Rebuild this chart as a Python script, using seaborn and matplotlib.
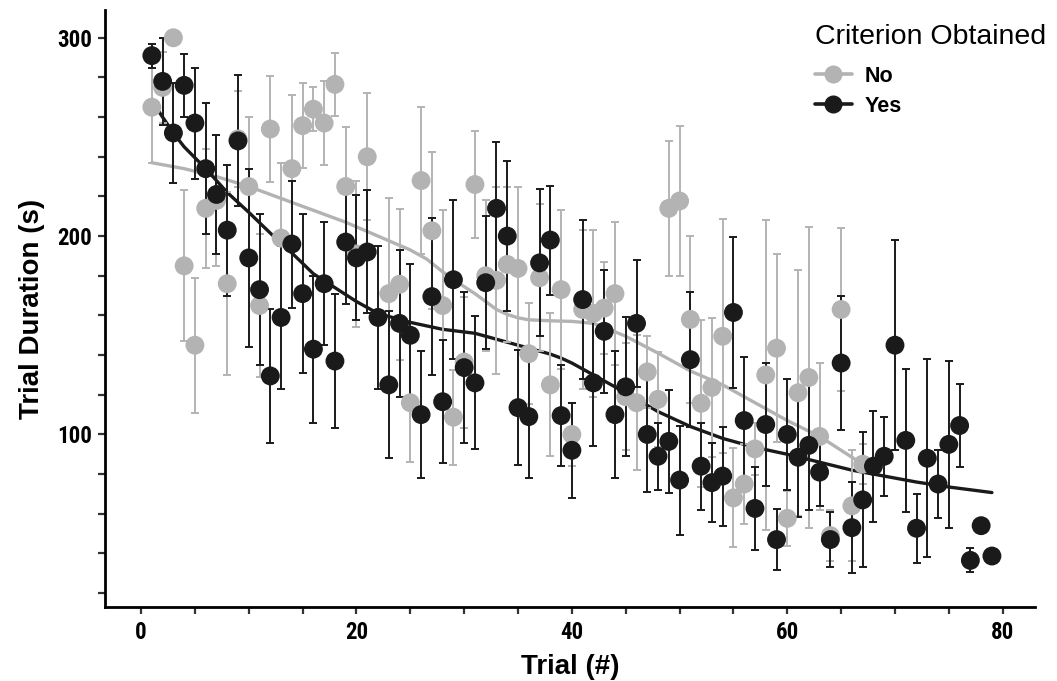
import numpy as np
import pandas as pd
import matplotlib
matplotlib.use("Agg")
import matplotlib.pyplot as plt
import seaborn as sns
from matplotlib.lines import Line2D
from matplotlib import font_manager as fm

# ---------------- data ----------------
yes_trials = list(range(1, 80))
yes_mean = [291, 278, 252, 276, 257, 234, 221, 203, 248, 189,
            173, 129.5, 159, 196, 171, 143, 176, 137, 197, 189,
            192, 159, 125, 156, 150, 110, 169.5, 116.5, 178, 133.7,
            126, 176.5, 214, 200, 113.5, 109, 186.5, 198, 109.5, 92,
            168, 126, 152, 110, 124, 156, 100, 89, 96.5, 77,
            137.7, 84, 75.7, 79, 161.5, 107, 62.7, 105, 47, 100,
            88.5, 94.5, 81, 47, 136, 53, 67, 84, 89, 145,
            97, 52.7, 88, 75, 95, 104.5, 36.5, 54, 38.7]
yes_se = [6, 22, 25, 16, 28, 33, 30, 33, 33, 45,
          38, 34, 36, 32, 40, 37, 31, 34, 31, 31.5,
          31, 36, 37, 37, 36, 32, 39.5, 31, 40, 38,
          33.5, 33.5, 33.5, 38, 29, 31, 37, 27.5, 25.5, 24,
          40, 32, 31, 32, 35, 32, 29, 17, 26, 27.5,
          34, 22, 20, 25, 38, 32, 21, 31, 15.5, 28,
          30, 32.5, 17, 14, 34, 23, 34, 28, 20, 53,
          36, 17.5, 50, 17, 42, 21, 6, 0, 0]

no_trials = list(range(1, 68))
no_mean = [265, 275, 300, 185, 145, 214, 218, 176, 249, 225,
           165, 254, 199, 234, 255.7, 264, 257, 276.5, 225, 191,
           240, np.nan, 171, 175.7, 116, 228, 202.7, 165, 108.7, 136.5,
           226, 180, 177.7, 185.7, 183.7, 140.7, 179, 125, 173, 100,
           163, 161, 163.7, 171, 119, 116, 131.5, 117.7, 214, 217.7,
           158, 115.7, 123.7, 149.5, 68, 75, 92.7, 130, 143.5, 57.7,
           121, 128.7, 99, 49, 163, 64, 85]
no_se = [28, 18, 0, 38, 34, 30, 33, 46, 24, 35,
         36, 26.5, 38, 37, 21.5, 11, 21, 16, 30, 37,
         32, 0, 48, 38, 30, 37, 39.5, 48, 24, 33,
         27, 38, 47, 39, 41, 25.5, 37, 36, 40, 16,
         40, 42, 23, 36, 27, 34, 18, 24, 34, 38,
         42, 42, 35, 59, 25, 20, 13, 78, 47.5, 14,
         62, 76, 37, 13, 41, 28, 10]

# smoothed (loess) curves
yes_fit_t = [1, 2, 3, 4, 6, 8, 10, 12, 14, 16, 18, 20, 22, 25, 28, 31, 33, 35,
             37, 38, 39, 40, 41, 42, 43, 45, 48, 51, 54, 57, 60, 63, 66, 69, 72, 75, 79]
yes_fit_v = [268, 260, 252, 245, 234, 222, 212, 201.5, 191.5, 181, 174, 167, 161,
             156.5, 153, 151, 148, 145, 142, 140.5, 138.5, 136, 133, 130, 127, 121,
             111.5, 104, 98, 93.5, 90, 86, 82, 79, 76, 73.5, 70.7]
no_fit_t = [1, 4, 7, 10, 13, 16, 19, 22, 25, 26.5, 28, 30, 31, 32, 33, 34, 35, 36,
            38, 40, 42, 43, 45, 48, 51, 54, 57, 60, 63, 65, 67]
no_fit_v = [237, 234, 230, 225, 219, 213, 207, 200, 193, 188.5, 182, 174.5, 171,
            167, 163, 160.5, 158.8, 157.8, 157.3, 157, 156, 154, 149.5, 141, 132,
            125, 116, 107, 99, 92, 85]

yticks = list(range(20, 301, 20))
ytick_labels = [str(v) if v % 100 == 0 else "" for v in yticks]
xticks = list(range(0, 81, 5))
xtick_labels = [str(v) if v % 20 == 0 else "" for v in xticks]
legend_title = "Criterion Obtained"
legend_labels = ["No", "Yes"]

GRAY = "#b3b3b3"
BLACK = "#1a1a1a"

df_no = pd.DataFrame({"Trial": no_trials, "Duration": no_mean, "SE": no_se})
df_yes = pd.DataFrame({"Trial": yes_trials, "Duration": yes_mean, "SE": yes_se})
fit_no = pd.DataFrame({"Trial": no_fit_t, "Duration": no_fit_v})
fit_yes = pd.DataFrame({"Trial": yes_fit_t, "Duration": yes_fit_v})

sns.set_theme(style="ticks")
plt.rcParams["font.family"] = ["Liberation Sans", "DejaVu Sans"]
plt.rcParams["text.color"] = "black"
plt.rcParams["axes.labelcolor"] = "black"

# narrow bold face for tick labels if available
names = {f.name for f in fm.fontManager.ttflist}
narrow_family = None
for cand in ["Liberation Sans Narrow", "DejaVu Sans Condensed", "Roboto Condensed", "Open Sans Condensed"]:
    if cand in names:
        narrow_family = cand
        break
if narrow_family is None:
    condensed = [f for f in fm.fontManager.ttflist
                 if ("ondensed" in f.fname or "Narrow" in f.fname) and f.weight in ("bold", 700)]
    tick_props = fm.FontProperties(fname=condensed[0].fname, size=16.5) if condensed else \
        fm.FontProperties(family="Liberation Sans", weight="bold", size=16)
else:
    tick_props = fm.FontProperties(family=narrow_family, weight="bold", size=16.5)

fig = plt.figure(figsize=(10.57, 6.81), dpi=100)
ax = fig.add_axes([105 / 1057, 1 - 607 / 681, (1035 - 105) / 1057, (607 - 10) / 681])

# smooth lines
sns.lineplot(data=fit_no, x="Trial", y="Duration", color=GRAY, lw=2.4, ax=ax, zorder=1)
sns.lineplot(data=fit_yes, x="Trial", y="Duration", color=BLACK, lw=2.4, ax=ax, zorder=1)

# error bars
for d, c in ((df_no, GRAY), (df_yes, BLACK)):
    m = d["SE"] > 0
    ax.errorbar(d.loc[m, "Trial"], d.loc[m, "Duration"], yerr=d.loc[m, "SE"], fmt="none",
                ecolor=c, elinewidth=1.4, capsize=2.8, capthick=1.4, zorder=2)

# points
sns.scatterplot(data=df_no, x="Trial", y="Duration", color=GRAY, s=185,
                edgecolor="none", ax=ax, zorder=3)
sns.scatterplot(data=df_yes, x="Trial", y="Duration", color=BLACK, s=185,
                edgecolor="none", ax=ax, zorder=4)

ax.set_xlim(-3.35, 83.0)
ax.set_ylim(13, 314)
ax.set_xticks(xticks)
ax.set_xticklabels(xtick_labels)
ax.set_yticks(yticks)
ax.set_yticklabels(ytick_labels)

for lab in ax.get_xticklabels() + ax.get_yticklabels():
    lab.set_fontproperties(tick_props)
    lab.set_color("black")

ax.tick_params(axis="both", direction="out", length=5, width=1.6, color="#333333", pad=5)
ax.tick_params(axis="y", pad=4)
for s in ("top", "right"):
    ax.spines[s].set_visible(False)
for s in ("left", "bottom"):
    ax.spines[s].set_linewidth(2.0)
    ax.spines[s].set_color("black")

ax.set_xlabel("Trial (#)", fontsize=20, fontweight="bold", labelpad=7, color="black")
ax.set_ylabel("Trial Duration (s)", fontsize=20, fontweight="bold", labelpad=9, color="black")

# legend
fig.text(815 / 1057, 1 - 37 / 681, legend_title, fontsize=20.5, va="center", ha="left",
         color="black")
handles = [Line2D([0], [0], color=GRAY, lw=2.6, marker="o", markersize=13, markeredgewidth=0),
           Line2D([0], [0], color=BLACK, lw=2.6, marker="o", markersize=13, markeredgewidth=0)]
leg = ax.legend(handles, legend_labels, loc="upper left",
                bbox_to_anchor=(815 / 1057, 1 - 66 / 681), bbox_transform=fig.transFigure,
                frameon=False, borderaxespad=0, borderpad=0, handlelength=1.7,
                handletextpad=0.6, labelspacing=0.4, prop={"weight": "bold", "size": 15.5})
for t in leg.get_texts():
    t.set_color("black")

fig.savefig("out.png", dpi=100)
